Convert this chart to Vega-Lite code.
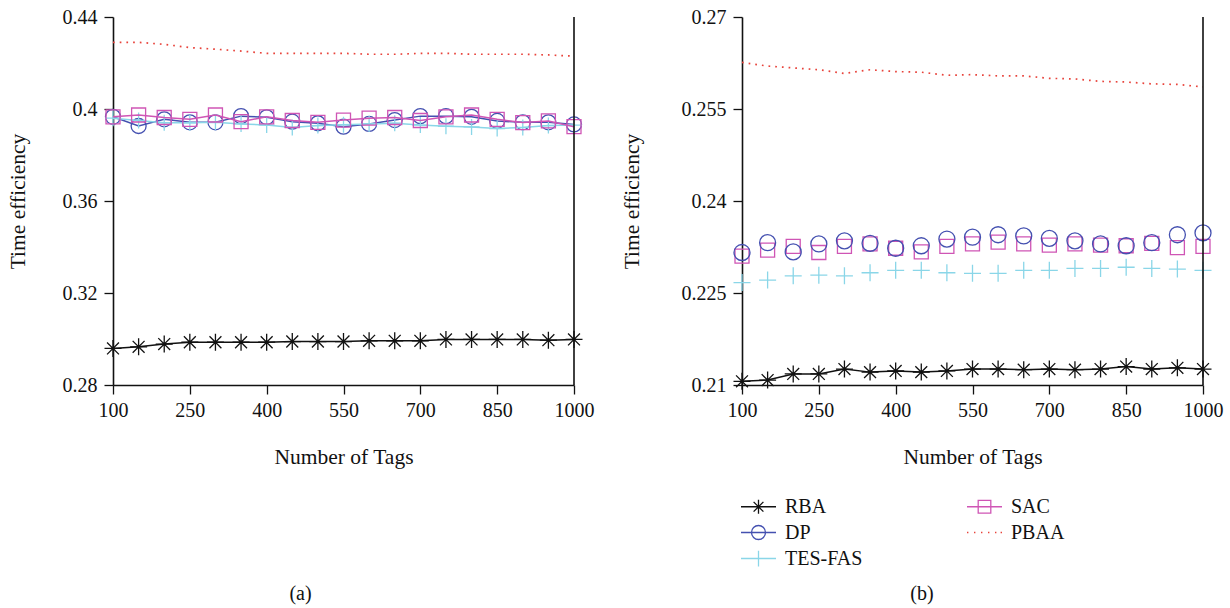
{
"$schema": "https://vega.github.io/schema/vega-lite/v6.json",
"padding": {"left": 7, "top": 7, "right": 5, "bottom": 5},
"background": "white",
"config": {
 "view": {"stroke": null},
 "font": "Liberation Serif",
 "axis": {"labelFont": "Liberation Serif", "labelFontSize": 20, "titleFont": "Liberation Serif", "titleFontSize": 21.5, "titleFontWeight": "normal", "labelColor": "#111", "titleColor": "#111", "domainColor": "#111", "domainWidth": 1.6, "tickColor": "#111", "tickWidth": 1.3, "tickSize": 9, "grid": false},
 "axisX": {"labelPadding": 6, "titlePadding": 26, "labelFlush": false},
 "axisY": {"labelPadding": 7, "titlePadding": 33},
 "title": {"font": "Liberation Serif", "fontSize": 20, "fontWeight": "normal", "color": "#111"},
 "legend": {"labelFont": "Liberation Serif", "labelFontSize": 20, "labelColor": "#111"}
},
"data": {"values": [
{"p":"a","s":"RBA","n":100,"v":0.2959},{"p":"a","s":"RBA","n":150,"v":0.2966},{"p":"a","s":"RBA","n":200,"v":0.2978},{"p":"a","s":"RBA","n":250,"v":0.2986},{"p":"a","s":"RBA","n":300,"v":0.2986},{"p":"a","s":"RBA","n":350,"v":0.2986},{"p":"a","s":"RBA","n":400,"v":0.2986},{"p":"a","s":"RBA","n":450,"v":0.2989},{"p":"a","s":"RBA","n":500,"v":0.2989},{"p":"a","s":"RBA","n":550,"v":0.2989},{"p":"a","s":"RBA","n":600,"v":0.2992},{"p":"a","s":"RBA","n":650,"v":0.2992},{"p":"a","s":"RBA","n":700,"v":0.2992},{"p":"a","s":"RBA","n":750,"v":0.2998},{"p":"a","s":"RBA","n":800,"v":0.2998},{"p":"a","s":"RBA","n":850,"v":0.2998},{"p":"a","s":"RBA","n":900,"v":0.2998},{"p":"a","s":"RBA","n":950,"v":0.2995},{"p":"a","s":"RBA","n":1000,"v":0.2998},
{"p":"a","s":"DP","n":100,"v":0.3966},{"p":"a","s":"DP","n":150,"v":0.3926},{"p":"a","s":"DP","n":200,"v":0.3955},{"p":"a","s":"DP","n":250,"v":0.3942},{"p":"a","s":"DP","n":300,"v":0.3942},{"p":"a","s":"DP","n":350,"v":0.3969},{"p":"a","s":"DP","n":400,"v":0.3964},{"p":"a","s":"DP","n":450,"v":0.3945},{"p":"a","s":"DP","n":500,"v":0.3938},{"p":"a","s":"DP","n":550,"v":0.3923},{"p":"a","s":"DP","n":600,"v":0.3935},{"p":"a","s":"DP","n":650,"v":0.3952},{"p":"a","s":"DP","n":700,"v":0.3969},{"p":"a","s":"DP","n":750,"v":0.3969},{"p":"a","s":"DP","n":800,"v":0.3966},{"p":"a","s":"DP","n":850,"v":0.3948},{"p":"a","s":"DP","n":900,"v":0.3942},{"p":"a","s":"DP","n":950,"v":0.3942},{"p":"a","s":"DP","n":1000,"v":0.3933},
{"p":"a","s":"TES-FAS","n":100,"v":0.3960},{"p":"a","s":"TES-FAS","n":150,"v":0.3950},{"p":"a","s":"TES-FAS","n":200,"v":0.3940},{"p":"a","s":"TES-FAS","n":250,"v":0.3940},{"p":"a","s":"TES-FAS","n":300,"v":0.3942},{"p":"a","s":"TES-FAS","n":350,"v":0.3935},{"p":"a","s":"TES-FAS","n":400,"v":0.3930},{"p":"a","s":"TES-FAS","n":450,"v":0.3920},{"p":"a","s":"TES-FAS","n":500,"v":0.3928},{"p":"a","s":"TES-FAS","n":550,"v":0.3932},{"p":"a","s":"TES-FAS","n":600,"v":0.3935},{"p":"a","s":"TES-FAS","n":650,"v":0.3938},{"p":"a","s":"TES-FAS","n":700,"v":0.3930},{"p":"a","s":"TES-FAS","n":750,"v":0.3925},{"p":"a","s":"TES-FAS","n":800,"v":0.3922},{"p":"a","s":"TES-FAS","n":850,"v":0.3915},{"p":"a","s":"TES-FAS","n":900,"v":0.3920},{"p":"a","s":"TES-FAS","n":950,"v":0.3928},{"p":"a","s":"TES-FAS","n":1000,"v":0.3930},
{"p":"a","s":"SAC","n":100,"v":0.3966},{"p":"a","s":"SAC","n":150,"v":0.3974},{"p":"a","s":"SAC","n":200,"v":0.3963},{"p":"a","s":"SAC","n":250,"v":0.3955},{"p":"a","s":"SAC","n":300,"v":0.3974},{"p":"a","s":"SAC","n":350,"v":0.3945},{"p":"a","s":"SAC","n":400,"v":0.3966},{"p":"a","s":"SAC","n":450,"v":0.3950},{"p":"a","s":"SAC","n":500,"v":0.3942},{"p":"a","s":"SAC","n":550,"v":0.3952},{"p":"a","s":"SAC","n":600,"v":0.3960},{"p":"a","s":"SAC","n":650,"v":0.3963},{"p":"a","s":"SAC","n":700,"v":0.3950},{"p":"a","s":"SAC","n":750,"v":0.3966},{"p":"a","s":"SAC","n":800,"v":0.3974},{"p":"a","s":"SAC","n":850,"v":0.3955},{"p":"a","s":"SAC","n":900,"v":0.3941},{"p":"a","s":"SAC","n":950,"v":0.3948},{"p":"a","s":"SAC","n":1000,"v":0.3923},
{"p":"a","s":"PBAA","n":100,"v":0.4290},{"p":"a","s":"PBAA","n":150,"v":0.4290},{"p":"a","s":"PBAA","n":200,"v":0.4281},{"p":"a","s":"PBAA","n":250,"v":0.4267},{"p":"a","s":"PBAA","n":300,"v":0.4260},{"p":"a","s":"PBAA","n":350,"v":0.4252},{"p":"a","s":"PBAA","n":400,"v":0.4242},{"p":"a","s":"PBAA","n":450,"v":0.4242},{"p":"a","s":"PBAA","n":500,"v":0.4242},{"p":"a","s":"PBAA","n":550,"v":0.4242},{"p":"a","s":"PBAA","n":600,"v":0.4238},{"p":"a","s":"PBAA","n":650,"v":0.4238},{"p":"a","s":"PBAA","n":700,"v":0.4242},{"p":"a","s":"PBAA","n":750,"v":0.4242},{"p":"a","s":"PBAA","n":800,"v":0.4238},{"p":"a","s":"PBAA","n":850,"v":0.4238},{"p":"a","s":"PBAA","n":900,"v":0.4238},{"p":"a","s":"PBAA","n":950,"v":0.4235},{"p":"a","s":"PBAA","n":1000,"v":0.4230},
{"p":"b","s":"RBA","n":100,"v":0.2106},{"p":"b","s":"RBA","n":150,"v":0.2108},{"p":"b","s":"RBA","n":200,"v":0.2118},{"p":"b","s":"RBA","n":250,"v":0.2118},{"p":"b","s":"RBA","n":300,"v":0.2126},{"p":"b","s":"RBA","n":350,"v":0.2121},{"p":"b","s":"RBA","n":400,"v":0.2123},{"p":"b","s":"RBA","n":450,"v":0.2121},{"p":"b","s":"RBA","n":500,"v":0.2123},{"p":"b","s":"RBA","n":550,"v":0.2126},{"p":"b","s":"RBA","n":600,"v":0.2126},{"p":"b","s":"RBA","n":650,"v":0.2125},{"p":"b","s":"RBA","n":700,"v":0.2126},{"p":"b","s":"RBA","n":750,"v":0.2125},{"p":"b","s":"RBA","n":800,"v":0.2126},{"p":"b","s":"RBA","n":850,"v":0.2130},{"p":"b","s":"RBA","n":900,"v":0.2126},{"p":"b","s":"RBA","n":950,"v":0.2128},{"p":"b","s":"RBA","n":1000,"v":0.2126},
{"p":"b","s":"DP","n":100,"v":0.2316},{"p":"b","s":"DP","n":150,"v":0.2332},{"p":"b","s":"DP","n":200,"v":0.2317},{"p":"b","s":"DP","n":250,"v":0.2330},{"p":"b","s":"DP","n":300,"v":0.2335},{"p":"b","s":"DP","n":350,"v":0.2331},{"p":"b","s":"DP","n":400,"v":0.2323},{"p":"b","s":"DP","n":450,"v":0.2327},{"p":"b","s":"DP","n":500,"v":0.2338},{"p":"b","s":"DP","n":550,"v":0.2341},{"p":"b","s":"DP","n":600,"v":0.2345},{"p":"b","s":"DP","n":650,"v":0.2343},{"p":"b","s":"DP","n":700,"v":0.2339},{"p":"b","s":"DP","n":750,"v":0.2335},{"p":"b","s":"DP","n":800,"v":0.2330},{"p":"b","s":"DP","n":850,"v":0.2327},{"p":"b","s":"DP","n":900,"v":0.2332},{"p":"b","s":"DP","n":950,"v":0.2345},{"p":"b","s":"DP","n":1000,"v":0.2348},
{"p":"b","s":"TES-FAS","n":100,"v":0.2267},{"p":"b","s":"TES-FAS","n":150,"v":0.2271},{"p":"b","s":"TES-FAS","n":200,"v":0.2278},{"p":"b","s":"TES-FAS","n":250,"v":0.2279},{"p":"b","s":"TES-FAS","n":300,"v":0.2278},{"p":"b","s":"TES-FAS","n":350,"v":0.2283},{"p":"b","s":"TES-FAS","n":400,"v":0.2287},{"p":"b","s":"TES-FAS","n":450,"v":0.2287},{"p":"b","s":"TES-FAS","n":500,"v":0.2283},{"p":"b","s":"TES-FAS","n":550,"v":0.2282},{"p":"b","s":"TES-FAS","n":600,"v":0.2282},{"p":"b","s":"TES-FAS","n":650,"v":0.2287},{"p":"b","s":"TES-FAS","n":700,"v":0.2287},{"p":"b","s":"TES-FAS","n":750,"v":0.2290},{"p":"b","s":"TES-FAS","n":800,"v":0.2290},{"p":"b","s":"TES-FAS","n":850,"v":0.2292},{"p":"b","s":"TES-FAS","n":900,"v":0.2290},{"p":"b","s":"TES-FAS","n":950,"v":0.2289},{"p":"b","s":"TES-FAS","n":1000,"v":0.2287},
{"p":"b","s":"SAC","n":100,"v":0.2310},{"p":"b","s":"SAC","n":150,"v":0.2320},{"p":"b","s":"SAC","n":200,"v":0.2326},{"p":"b","s":"SAC","n":250,"v":0.2316},{"p":"b","s":"SAC","n":300,"v":0.2326},{"p":"b","s":"SAC","n":350,"v":0.2330},{"p":"b","s":"SAC","n":400,"v":0.2323},{"p":"b","s":"SAC","n":450,"v":0.2317},{"p":"b","s":"SAC","n":500,"v":0.2326},{"p":"b","s":"SAC","n":550,"v":0.2330},{"p":"b","s":"SAC","n":600,"v":0.2333},{"p":"b","s":"SAC","n":650,"v":0.2330},{"p":"b","s":"SAC","n":700,"v":0.2328},{"p":"b","s":"SAC","n":750,"v":0.2330},{"p":"b","s":"SAC","n":800,"v":0.2328},{"p":"b","s":"SAC","n":850,"v":0.2327},{"p":"b","s":"SAC","n":900,"v":0.2331},{"p":"b","s":"SAC","n":950,"v":0.2324},{"p":"b","s":"SAC","n":1000,"v":0.2326},
{"p":"b","s":"PBAA","n":100,"v":0.2626},{"p":"b","s":"PBAA","n":150,"v":0.2620},{"p":"b","s":"PBAA","n":200,"v":0.2617},{"p":"b","s":"PBAA","n":250,"v":0.2614},{"p":"b","s":"PBAA","n":300,"v":0.2608},{"p":"b","s":"PBAA","n":350,"v":0.2614},{"p":"b","s":"PBAA","n":400,"v":0.2611},{"p":"b","s":"PBAA","n":450,"v":0.2610},{"p":"b","s":"PBAA","n":500,"v":0.2605},{"p":"b","s":"PBAA","n":550,"v":0.2606},{"p":"b","s":"PBAA","n":600,"v":0.2604},{"p":"b","s":"PBAA","n":650,"v":0.2604},{"p":"b","s":"PBAA","n":700,"v":0.2600},{"p":"b","s":"PBAA","n":750,"v":0.2599},{"p":"b","s":"PBAA","n":800,"v":0.2595},{"p":"b","s":"PBAA","n":850,"v":0.2594},{"p":"b","s":"PBAA","n":900,"v":0.2591},{"p":"b","s":"PBAA","n":950,"v":0.2590},{"p":"b","s":"PBAA","n":1000,"v":0.2586}
]},
"spacing": 27,
"hconcat": [
 {
  "width": 461, "height": 368,
  "title": {"text": "(a)", "orient": "bottom", "offset": 116, "frame": "bounds"},
  "transform": [{"filter": "datum.p === 'a'"}],
  "encoding": {
   "x": {"field": "n", "type": "quantitative", "scale": {"domain": [100, 1000], "nice": false, "zero": false}, "axis": {"values": [100, 250, 400, 550, 700, 850, 1000], "format": "d", "title": "Number of Tags"}},
   "y": {"field": "v", "type": "quantitative", "scale": {"domain": [0.28, 0.44], "nice": false, "zero": false}, "axis": {"values": [0.28, 0.32, 0.36, 0.4, 0.44], "format": ".2~f", "title": "Time efficiency"}}
  },
  "layer": [
   {"transform": [{"filter": "datum.s === 'PBAA'"}], "mark": {"type": "line", "color": "#e8433b", "strokeWidth": 1.7, "strokeDash": [1.7, 5]}},
   {"transform": [{"filter": "datum.s === 'RBA'"}], "mark": {"type": "line", "color": "#111111", "strokeWidth": 1.5}},
   {"transform": [{"filter": "datum.s === 'RBA'"}], "mark": {"type": "point", "color": "#111111", "shape": "M-1,0H1M0,-1V1M-0.7,-0.7L0.7,0.7M-0.7,0.7L0.7,-0.7", "size": 289, "strokeWidth": 1.3, "opacity": 1}},
   {"transform": [{"filter": "datum.s === 'DP'"}], "mark": {"type": "line", "color": "#4450b0", "strokeWidth": 1.5}},
   {"transform": [{"filter": "datum.s === 'DP'"}], "mark": {"type": "point", "color": "#4450b0", "shape": "circle", "size": 225, "strokeWidth": 1.3, "opacity": 1}},
   {"transform": [{"filter": "datum.s === 'TES-FAS'"}], "mark": {"type": "line", "color": "#8ad6e8", "strokeWidth": 1.5}},
   {"transform": [{"filter": "datum.s === 'TES-FAS'"}], "mark": {"type": "point", "color": "#8ad6e8", "shape": "M-1,0H1M0,-1V1", "size": 256, "strokeWidth": 1.3, "opacity": 1}},
   {"transform": [{"filter": "datum.s === 'SAC'"}], "mark": {"type": "line", "color": "#cf55b5", "strokeWidth": 1.5}},
   {"transform": [{"filter": "datum.s === 'SAC'"}], "mark": {"type": "point", "color": "#cf55b5", "shape": "square", "size": 196, "strokeWidth": 1.3, "opacity": 1}},
   {"transform": [{"filter": "datum.s === 'RBA' && datum.n === 100"}], "mark": {"type": "rule", "color": "#111", "strokeWidth": 1.6}, "encoding": {"x": {"datum": 1000}, "y": {"datum": 0.28}, "y2": {"datum": 0.44}}}
  ]
 },
 {
  "width": 461, "height": 368,
  "title": {"text": "(b)", "orient": "bottom", "offset": 116, "frame": "bounds"},
  "transform": [{"filter": "datum.p === 'b'"}],
  "encoding": {
   "x": {"field": "n", "type": "quantitative", "scale": {"domain": [100, 1000], "nice": false, "zero": false}, "axis": {"values": [100, 250, 400, 550, 700, 850, 1000], "format": "d", "title": "Number of Tags"}},
   "y": {"field": "v", "type": "quantitative", "scale": {"domain": [0.21, 0.27], "nice": false, "zero": false}, "axis": {"values": [0.21, 0.225, 0.24, 0.255, 0.27], "format": ".3~f", "title": "Time efficiency", "titlePadding": 38}}
  },
  "layer": [
   {"transform": [{"filter": "datum.s === 'PBAA'"}], "mark": {"type": "line", "color": "#e8433b", "strokeWidth": 1.7, "strokeDash": [1.7, 5]}},
   {"transform": [{"filter": "datum.s === 'RBA'"}], "mark": {"type": "line", "color": "#111111", "strokeWidth": 1.5}},
   {"transform": [{"filter": "datum.s === 'RBA'"}], "mark": {"type": "point", "color": "#111111", "shape": "M-1,0H1M0,-1V1M-0.7,-0.7L0.7,0.7M-0.7,0.7L0.7,-0.7", "size": 289, "strokeWidth": 1.3, "opacity": 1}},
   {"transform": [{"filter": "datum.s === 'TES-FAS'"}], "mark": {"type": "point", "color": "#8ad6e8", "shape": "M-1,0H1M0,-1V1", "size": 289, "strokeWidth": 1.3, "opacity": 1}},
   {"transform": [{"filter": "datum.s === 'SAC'"}], "mark": {"type": "point", "color": "#cf55b5", "shape": "square", "size": 196, "strokeWidth": 1.3, "opacity": 1}},
   {"transform": [{"filter": "datum.s === 'DP'"}], "mark": {"type": "point", "color": "#4450b0", "shape": "circle", "size": 256, "strokeWidth": 1.3, "opacity": 1}},
   {"transform": [{"filter": "datum.s === 'RBA' && datum.n === 100"}], "mark": {"type": "rule", "color": "#111", "strokeWidth": 1.6}, "encoding": {"x": {"datum": 1000}, "y": {"datum": 0.21}, "y2": {"datum": 0.27}}},
   {"transform": [{"filter": "false"}], "mark": {"type": "point", "size": 1225, "strokeWidth": 1.3, "opacity": 1, "filled": false},
    "encoding": {
     "color": {"field": "s", "type": "nominal", "scale": {"domain": ["RBA", "DP", "TES-FAS", "SAC", "PBAA"], "range": ["#111111", "#4450b0", "#8ad6e8", "#cf55b5", "#e8433b"]},
      "legend": {"title": null, "orient": "none", "legendX": 627, "legendY": 480, "columns": 2, "symbolSize": 1225, "clipHeight": 19, "rowPadding": 5, "columnPadding": 103, "labelOffset": 8, "symbolStrokeWidth": 1.3, "labelFontSize": 20, "labelFont": "Liberation Serif", "padding": 0}},
     "shape": {"field": "s", "type": "nominal", "scale": {"domain": ["RBA", "DP", "TES-FAS", "SAC", "PBAA"], "range": ["M-1,0H1M0,-0.4V0.4M-0.28,-0.28L0.28,0.28M-0.28,0.28L0.28,-0.28", "M-1,0H1M0.4,0A0.4,0.4,0,1,1,-0.4,0A0.4,0.4,0,1,1,0.4,0", "M-1,0H1M0,-0.45V0.45", "M-1,0H1M-0.36,-0.36H0.36V0.36H-0.36Z", "M-1,0H-0.92M-0.6,0H-0.52M-0.2,0H-0.12M0.2,0H0.28M0.6,0H0.68M0.92,0H1"]},
      "legend": {"title": null, "orient": "none", "legendX": 627, "legendY": 480, "columns": 2, "symbolSize": 1225, "clipHeight": 19, "rowPadding": 5, "columnPadding": 103, "labelOffset": 8, "symbolStrokeWidth": 1.3, "labelFontSize": 20, "labelFont": "Liberation Serif", "padding": 0}}
    }
   }
  ]
 }
]
}
